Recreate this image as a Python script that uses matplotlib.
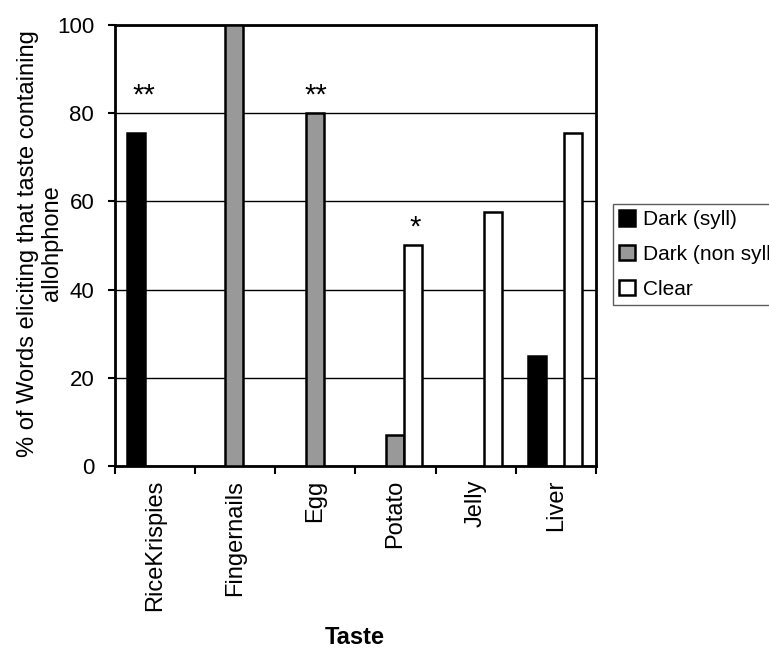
import matplotlib
matplotlib.use('Agg')
import matplotlib.pyplot as plt
import numpy as np

plt.rcParams['font.family'] = ['Liberation Sans', 'DejaVu Sans']

# data
tastes = ['RiceKrispies', 'Fingernails', 'Egg', 'Potato', 'Jelly', 'Liver']
dark_syll = [75.5, 0, 0, 0, 0, 25]
dark_non_syll = [0, 100, 80, 7, 0, 0]
clear = [0, 0, 0, 50, 57.5, 75.5]
series_names = ['Dark (syll)', 'Dark (non syll)', 'Clear']
stars = ['**', '', '**', '*', '', '']
star_y = [84, 0, 84, 54, 0, 0]

fig = plt.figure(figsize=(7.69, 6.48), dpi=100)
ax = fig.add_axes([0.1495, 0.2809, 0.6255, 0.6805])

x = np.arange(len(tastes)) + 0.49
w = 0.225
cols = ['black', '#999999', 'white']
for k, vals in enumerate([dark_syll, dark_non_syll, clear]):
    # Excel leaves zero bars out, so skip them here too
    xs = [xi + (k - 1) * w for xi, v in zip(x, vals) if v > 0]
    vs = [v for v in vals if v > 0]
    ax.bar(xs, vs, width=w, color=cols[k], edgecolor='black', linewidth=1.8,
           label=series_names[k], zorder=3)

# significance stars
star_off = [-0.13, 0, 0.02, 0.25, 0, 0]
for i, s in enumerate(stars):
    if s:
        ax.text(x[i] + star_off[i], star_y[i], s, ha='center', va='center',
                fontsize=21, zorder=4)

ax.set_xlim(0, 6)
ax.set_ylim(0, 100)
ax.set_yticks([0, 20, 40, 60, 80, 100])
ax.yaxis.grid(True, color='black', linewidth=1.0, zorder=0)
ax.set_axisbelow(True)

ax.set_xticks(np.arange(0, 7))
ax.set_xticklabels([])
ax.set_xticks(np.arange(len(tastes)) + 0.5, minor=True)
ax.set_xticklabels(tastes, minor=True, rotation=90, fontsize=17)
ax.tick_params(axis='x', which='minor', length=0, pad=10)
ax.tick_params(axis='x', which='major', length=6, width=1.5, direction='out')
ax.tick_params(axis='y', length=5, width=1.5, labelsize=16, pad=10)

for sp in ax.spines.values():
    sp.set_linewidth(2)

ax.set_ylabel('% of Words eliciting that taste containing\nallohphone', fontsize=17,
              linespacing=1.1)
ax.yaxis.set_label_coords(-0.108, 0.505)
fig.text(355 / 769, 1 - 637 / 648, 'Taste', ha='center', va='center',
         fontsize=17, fontweight='bold')

leg = ax.legend(loc='upper left', bbox_to_anchor=(613 / 769, 1 - 204 / 648),
                bbox_transform=fig.transFigure, fontsize=15, frameon=True,
                fancybox=False, edgecolor='#333333', handlelength=0.75,
                handleheight=0.75, handletextpad=0.4, borderpad=0.3,
                labelspacing=0.75, borderaxespad=0)
leg.get_frame().set_linewidth(1.0)

fig.savefig('out.png', dpi=100)
